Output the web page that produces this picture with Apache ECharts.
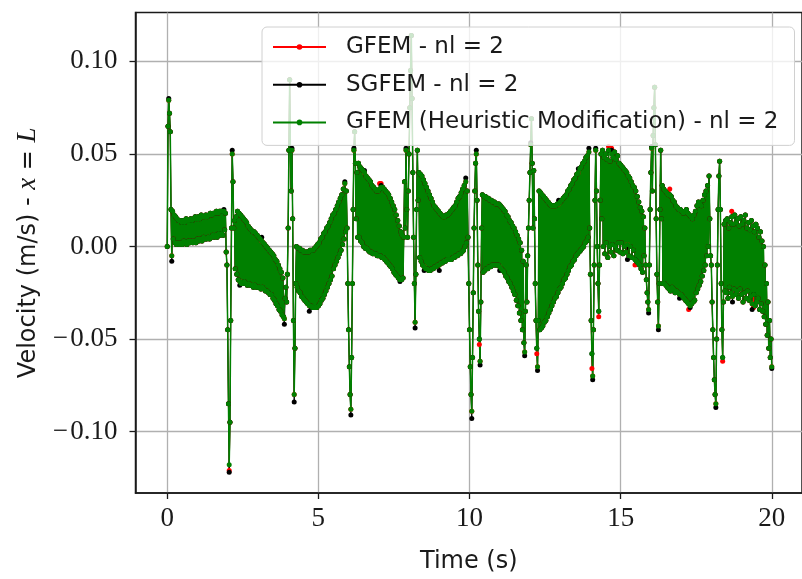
<!DOCTYPE html>
<html><head><meta charset="utf-8">
<script src="https://cdn.jsdelivr.net/npm/echarts@6/dist/echarts.min.js"></script>
<style>html,body{margin:0;padding:0;background:#fff}#c{width:802px;height:579px}</style>
</head><body><div id="c"></div>
<script>
// ---------- data ----------
// Uniform output step of the simulation (s); sample i is at time i * sampleStep, 0 .. 20 s.
const sampleStep = 0.025;
// Velocities in units of 1e-3 m/s, one row per 0.5 s (20 samples), last row = t = 20 s.

// GFEM (Heuristic Modification) - green, drawn on top
const gfemHeur = [
0,65,79,72,62,20,-5,19,4,17,2,16,1,15,2,14,1,14,2,13,
1,14,3,13,2,15,1,14,3,14,2,15,3,14,2,15,3,16,2,15,
4,16,3,15,4,17,3,16,5,16,4,17,4,16,5,17,4,18,5,17,
6,18,5,18,6,19,5,18,7,19,6,19,7,19,6,19,9,18,-3,-10,
-45,-85,-118,-95,-40,10,50,35,10,14,-12,16,-15,19,-18,18,-19,17,-20,16,
-20,15,-19,14,-20,13,-21,11,-20,10,-21,9,-21,8,-22,8,-21,7,-22,6,
-22,5,-22,4,-23,3,-22,2,-23,1,-24,0,-24,-1,-25,-2,-26,-3,-26,-4,
-28,-5,-29,-7,-31,-8,-32,-10,-34,-12,-35,-14,-37,-17,-38,-39,-28,-22,-30,-15,
10,52,90,52,30,52,15,-40,-80,-55,-20,0,-22,-1,-24,-1,-25,-2,-27,-2,
-28,-3,-29,-3,-30,-3,-31,-3,-32,-2,-32,-2,-33,-2,-33,-1,-33,0,-33,1,
-32,2,-31,4,-29,5,-28,7,-26,8,-24,10,-22,11,-20,13,-18,15,-16,17,
-12,18,-10,20,-8,22,-6,24,-4,26,-2,28,1,31,4,34,8,30,10,-20,
-45,-65,-80,-88,-60,-20,20,52,62,45,15,40,5,45,5,43,3,42,2,41,
0,40,-1,38,-1,37,-2,36,-3,35,-3,33,-4,32,-4,31,-4,30,-5,30,
-5,31,-5,32,-6,32,-6,31,-7,30,-8,29,-9,28,-10,26,-11,24,-12,22,
-14,20,-15,17,-16,14,-17,11,-18,8,-18,6,-17,5,35,10,52,20,5,30,
50,75,95,114,80,40,5,-20,-41,-15,20,52,25,40,-6,39,-8,38,-10,36,
-11,34,-12,32,-12,30,-13,28,-13,26,-12,24,-12,22,-11,21,-11,20,-10,19,
-10,18,-9,17,-9,16,-8,16,-8,17,-7,17,-7,18,-7,19,-7,20,-6,21,
-6,22,-5,24,-5,26,-4,27,-4,29,-3,31,-2,33,0,35,2,30,5,-20,
-45,-65,-80,-89,-60,-25,10,30,45,50,25,-10,-35,-50,-62,-30,10,28,-14,27,
-13,27,-12,26,-12,26,-11,25,-11,25,-10,24,-10,24,-10,23,-10,23,-10,23,
-11,22,-12,21,-13,20,-14,19,-16,17,-17,16,-19,14,-20,13,-22,11,-24,10,
-26,8,-29,6,-32,4,-36,2,-40,-2,-45,-8,-52,-57,-35,-10,-30,-5,10,25,
40,55,69,45,10,41,15,-20,-40,-55,-65,-40,30,-45,29,-44,28,-43,27,-41,
26,-40,25,-38,24,-36,23,-34,22,-32,22,-30,22,-28,22,-27,23,-25,23,-23,
24,-22,25,-20,26,-18,27,-17,28,-15,30,-13,31,-11,33,-10,34,-8,36,-7,
37,-5,39,-4,40,-3,42,-2,43,-1,45,0,46,2,48,3,49,5,51,10,
-15,-40,-58,-70,-45,-10,25,52,30,0,-20,-35,-10,25,50,15,52,0,48,-4,
50,2,47,-6,52,0,46,-3,50,1,48,-5,51,0,47,-2,49,2,45,-3,
44,2,43,-4,42,0,41,-3,40,1,38,-5,37,0,35,-6,33,-2,32,-7,
30,-8,27,-9,24,-10,21,-12,19,-14,16,-5,10,-10,-18,-25,-30,-34,-10,20,
40,53,30,60,75,86,55,15,-15,-30,-43,-20,20,52,15,33,-20,31,-20,30,
-21,29,-22,28,-23,28,-24,27,-22,25,-23,24,-25,22,-24,21,-25,20,-26,20,
-26,19,-27,18,-28,19,-29,20,-30,18,-31,17,-32,16,-31,15,-30,17,-29,19,
-25,22,-23,24,-21,23,-19,22,-16,25,-13,28,-10,30,-5,33,0,38,15,-5,
-10,-30,-45,-60,-72,-80,-85,-50,-10,20,38,46,20,-20,-45,-60,-30,12,-24,14,
-25,15,-28,10,-22,13,-25,16,-27,12,-23,17,-26,13,-24,15,-28,11,-23,16,
-26,12,-30,14,-25,17,-28,10,-24,13,-29,9,-27,14,-31,11,-26,8,-32,12,
-30,10,-28,5,-34,8,-31,3,-35,0,-38,-10,-42,-20,-48,-30,-55,-40,-60,-50,
-65
];

// SGFEM - black
const sgfem = [
0,65,80,72,62,20,-8,19,4,17,2,16,1,15,2,14,1,14,2,13,
1,14,3,13,2,15,1,14,3,14,2,15,3,14,2,15,3,16,2,15,
4,16,3,15,4,17,3,16,5,16,4,17,4,16,5,17,4,18,5,17,
6,18,5,18,6,19,5,18,7,19,6,19,7,19,6,20,9,18,-3,-10,
-45,-85,-122,-95,-40,10,52,35,10,14,-12,16,-15,19,-18,18,-21,17,-20,16,
-20,15,-19,14,-20,13,-21,11,-20,10,-21,9,-21,8,-22,8,-21,7,-22,6,
-22,5,-22,4,-23,5,-22,2,-23,1,-24,0,-24,-1,-25,-2,-26,-3,-26,-4,
-28,-5,-29,-7,-31,-8,-32,-10,-34,-12,-35,-14,-37,-17,-38,-42,-28,-22,-30,-15,
10,52,90,52,30,53,15,-40,-84,-55,-20,0,-22,-1,-24,-1,-25,-2,-27,-2,
-28,-3,-29,-3,-30,-3,-31,-3,-35,-2,-32,-2,-33,-2,-33,-1,-33,0,-33,1,
-32,2,-31,4,-29,5,-28,7,-26,8,-24,10,-22,11,-20,13,-18,15,-16,17,
-12,18,-10,20,-8,22,-6,24,-4,26,-2,28,1,31,4,35,8,30,10,-20,
-45,-65,-80,-91,-60,-20,20,53,62,45,15,40,5,45,5,43,3,42,2,41,
0,41,-1,38,-1,37,-2,36,-3,35,-3,33,-4,32,-4,31,-4,30,-5,30,
-5,31,-5,33,-6,32,-6,31,-7,30,-8,29,-9,28,-10,26,-11,24,-12,22,
-14,20,-15,17,-16,14,-17,11,-19,8,-18,6,-17,5,35,10,53,20,5,30,
50,75,95,114,80,40,5,-20,-44,-15,20,52,25,40,-6,39,-8,38,-10,36,
-13,34,-12,32,-12,30,-13,28,-13,26,-12,24,-12,22,-11,21,-11,20,-10,19,
-13,18,-9,17,-9,16,-8,16,-8,17,-7,17,-7,18,-7,19,-7,20,-6,21,
-6,22,-5,24,-5,26,-4,27,-4,29,-3,31,-2,33,0,37,2,30,5,-20,
-45,-65,-80,-93,-60,-25,10,30,45,52,25,-10,-35,-50,-64,-30,10,28,-14,27,
-13,27,-12,26,-12,26,-11,25,-11,25,-10,24,-10,24,-10,23,-10,23,-10,23,
-13,22,-12,21,-13,20,-14,19,-16,17,-17,16,-19,14,-20,13,-22,11,-24,10,
-26,8,-29,6,-32,4,-36,2,-40,-2,-45,-8,-52,-59,-35,-10,-30,-5,10,25,
40,56,69,45,10,41,15,-20,-40,-55,-67,-40,30,-45,29,-44,28,-43,27,-41,
26,-40,25,-38,24,-36,23,-34,22,-32,22,-30,22,-28,22,-27,23,-25,25,-23,
24,-22,25,-20,26,-18,27,-17,28,-15,30,-13,31,-11,33,-10,34,-8,36,-7,
37,-5,39,-4,42,-3,42,-2,43,-1,45,0,46,2,48,3,49,5,53,10,
-15,-40,-58,-72,-45,-10,25,53,30,0,-20,-35,-10,25,50,15,52,0,48,-4,
50,2,47,-6,52,0,46,-3,52,1,48,-5,51,0,47,-2,49,2,45,-3,
44,2,43,-4,42,0,41,-3,40,-7,38,-5,37,0,35,-6,33,-2,32,-7,
30,-8,27,-9,24,-10,21,-12,19,-14,16,-5,10,-10,-18,-25,-30,-36,-10,20,
40,54,30,60,75,86,55,15,-15,-30,-45,-20,20,52,15,33,-20,31,-20,30,
-21,29,-22,28,-23,28,-24,27,-22,25,-23,24,-25,22,-24,21,-25,20,-28,20,
-26,19,-27,18,-28,19,-29,20,-30,18,-31,17,-33,16,-31,15,-30,17,-29,19,
-25,22,-23,24,-21,23,-19,22,-16,25,-13,28,-10,30,-5,33,0,38,15,-5,
-10,-30,-45,-60,-72,-80,-87,-50,-10,20,38,46,20,-20,-45,-60,-30,12,-24,14,
-25,15,-28,10,-22,13,-25,16,-30,12,-23,17,-26,13,-24,15,-28,11,-23,16,
-26,12,-30,14,-25,17,-28,10,-24,13,-29,9,-27,14,-34,11,-26,8,-32,12,
-30,10,-28,5,-34,8,-31,3,-35,0,-38,-10,-42,-20,-48,-30,-55,-40,-60,-50,
-66
];

// GFEM - red
const gfem = [
0,65,79,72,62,20,-5,19,4,17,2,16,1,15,2,14,1,14,2,13,
1,14,3,13,2,15,1,14,3,14,2,15,3,14,2,15,3,16,2,15,
4,16,3,15,4,17,3,16,5,16,4,17,4,16,5,17,4,18,5,17,
6,18,5,18,6,19,5,18,7,19,6,19,7,19,6,19,9,18,-3,-10,
-45,-85,-121,-95,-40,10,50,35,10,14,-12,16,-15,19,-18,18,-19,17,-20,16,
-20,15,-19,14,-20,13,-21,11,-20,10,-21,9,-21,8,-22,8,-21,7,-22,6,
-22,5,-22,4,-23,3,-22,2,-23,1,-24,0,-24,-1,-25,-2,-26,-3,-26,-4,
-28,-5,-29,-7,-31,-8,-32,-10,-34,-12,-35,-14,-37,-17,-38,-39,-28,-22,-30,-15,
10,52,90,52,30,52,15,-40,-80,-55,-20,0,-22,-1,-24,-1,-25,-2,-27,-2,
-28,-3,-29,-3,-30,-3,-31,-3,-32,-2,-32,-2,-33,-2,-33,-1,-33,0,-33,1,
-32,2,-31,4,-29,5,-28,7,-26,8,-24,10,-22,11,-20,13,-18,15,-16,17,
-12,18,-10,20,-8,22,-6,24,-4,26,-2,28,1,31,4,34,8,30,10,-20,
-45,-65,-80,-88,-60,-20,20,52,62,45,15,40,5,45,5,43,3,42,2,41,
0,40,-1,38,-1,37,-2,36,-3,35,-3,33,-4,32,-4,31,-4,30,-5,30,
-5,34,-5,34,-6,32,-6,31,-7,30,-8,29,-9,28,-10,26,-11,24,-12,22,
-14,20,-15,17,-16,14,-17,11,-18,8,-18,6,-17,5,35,10,52,20,5,30,
50,75,95,114,80,40,5,-20,-41,-15,20,52,25,40,-6,39,-8,38,-10,36,
-11,34,-12,32,-12,30,-13,28,-13,26,-12,24,-12,22,-11,21,-11,20,-10,19,
-10,18,-9,17,-9,16,-8,16,-8,17,-7,17,-7,18,-7,19,-7,20,-6,21,
-6,22,-5,24,-5,26,-4,27,-4,29,-3,31,-2,33,0,35,2,30,5,-20,
-45,-65,-80,-89,-60,-25,10,30,45,50,25,-10,-35,-53,-62,-30,10,28,-14,27,
-13,27,-12,26,-12,26,-11,25,-11,25,-10,24,-10,24,-10,23,-10,23,-10,23,
-11,22,-12,21,-13,20,-14,19,-16,17,-17,16,-19,14,-20,13,-22,11,-24,10,
-26,8,-29,6,-32,4,-36,2,-40,-2,-45,-8,-52,-57,-35,-10,-30,-5,10,25,
40,55,69,45,10,41,15,-20,-40,-58,-65,-40,30,-45,29,-44,28,-43,27,-41,
26,-40,25,-38,24,-36,23,-34,22,-32,22,-30,22,-28,22,-27,23,-25,23,-23,
24,-22,25,-20,26,-18,27,-17,28,-15,30,-13,31,-11,33,-10,34,-8,36,-7,
37,-5,39,-4,40,-3,42,-2,43,-1,45,0,46,2,48,3,49,5,51,10,
-15,-40,-66,-70,-45,-10,25,52,30,0,-20,-38,-10,25,50,15,52,0,48,-4,
50,2,47,-6,54,0,46,-3,53,1,48,-5,51,0,47,-2,49,2,45,-3,
44,2,43,-4,42,0,41,-3,40,1,38,-5,37,0,35,-6,33,-2,32,-10,
30,-8,27,-9,24,-10,21,-12,19,-14,16,-5,10,-10,-18,-25,-30,-34,-10,20,
40,53,30,60,75,86,55,15,-15,-30,-43,-20,20,52,15,33,-20,31,-20,30,
-21,29,-22,28,-23,31,-24,27,-22,25,-23,24,-25,22,-24,21,-25,20,-26,20,
-26,19,-27,18,-28,19,-29,20,-30,18,-34,17,-32,16,-31,15,-30,17,-29,19,
-25,22,-23,24,-21,23,-19,22,-16,25,-13,28,-10,30,-5,33,0,38,15,-5,
-10,-30,-45,-60,-72,-80,-85,-50,-10,20,38,46,20,-20,-45,-62,-30,12,-24,14,
-25,15,-28,10,-22,13,-25,19,-27,12,-23,17,-26,13,-24,15,-28,11,-23,16,
-26,12,-30,14,-25,17,-28,10,-24,13,-29,9,-27,14,-31,11,-33,8,-32,12,
-30,10,-28,5,-34,8,-31,3,-35,0,-38,-10,-42,-20,-48,-30,-55,-40,-60,-50,
-65
];

const xTicks = [0, 5, 10, 15, 20];
const yTicks = [-0.10, -0.05, 0.00, 0.05, 0.10];
const seriesNames = ['GFEM - nl = 2', 'SGFEM - nl = 2', 'GFEM (Heuristic Modification) - nl = 2'];
const seriesColors = ['#ff0000', '#000000', '#008000'];
const seriesValues = [gfem, sgfem, gfemHeur];

seriesValues.forEach((a, k) => {
  if (a.length !== gfemHeur.length) console.error('length mismatch', k, a.length);
});

const chart = echarts.init(document.getElementById('c'), null, {renderer: 'canvas'});
const sansFont = 'DejaVu Sans';
const serifFont = 'Liberation Serif';
const ink = '#1a1a1a';

const option = {
  backgroundColor: '#ffffff',
  animation: false,
  grid: {
    left: 135.5, top: 12.5, right: -9.7, bottom: 82,
    show: true, borderColor: ink, borderWidth: 1.5, backgroundColor: 'transparent',
    containLabel: false
  },
  legend: {
    orient: 'vertical', left: 262, top: 27,
    padding: [8, 16, 11, 10], itemGap: 13.7, itemWidth: 53, itemHeight: 7,
    backgroundColor: 'rgba(255,255,255,0.8)', borderColor: '#d0d0d0', borderWidth: 1, borderRadius: 5,
    textStyle: {fontFamily: sansFont, fontSize: 23, color: ink, lineHeight: 24, padding: [0, 0, 0, 15]},
    data: seriesNames
  },
  xAxis: {
    type: 'value', min: -1.05, max: 21,
    axisLine: {show: true, onZero: false, lineStyle: {color: ink, width: 1.5}},
    axisTick: {show: true, customValues: xTicks, length: 6, inside: false, lineStyle: {color: ink, width: 1.3}},
    axisLabel: {customValues: xTicks, margin: 12, fontFamily: serifFont, fontSize: 27, color: ink,
      formatter: v => String(v)},
    splitLine: {show: true, lineStyle: {color: '#b0b0b0', width: 1.3}},
    name: 'Time (s)', nameLocation: 'middle', nameGap: 57,
    nameTextStyle: {fontFamily: sansFont, fontSize: 24, color: ink}
  },
  yAxis: {
    type: 'value', min: -0.1332, max: 0.1264,
    axisLine: {show: true, onZero: false, lineStyle: {color: ink, width: 1.5}},
    axisTick: {show: true, customValues: yTicks, length: 6, inside: false, lineStyle: {color: ink, width: 1.3}},
    axisLabel: {customValues: yTicks, margin: 18, fontFamily: serifFont, fontSize: 27, color: ink,
      formatter: v => (v < -1e-9 ? '\u2212\u200a' : '') + Math.abs(v).toFixed(2)},
    splitLine: {show: true, lineStyle: {color: '#b0b0b0', width: 1.3}},
    name: 'Velocity (m/s) - {m|x} = {m|L}', nameLocation: 'middle', nameGap: 89, nameRotate: 90,
    nameTextStyle: {fontFamily: sansFont, fontSize: 24, color: ink,
      rich: {m: {fontFamily: serifFont, fontStyle: 'italic', fontSize: 27, color: ink}}}
  },
  series: seriesNames.map((name, k) => ({
    name: name, type: 'line',
    data: seriesValues[k].map((v, i) => [i * sampleStep, v / 1000]),
    symbol: 'circle', symbolSize: 5, showSymbol: true, showAllSymbol: true,
    clip: true,
    lineStyle: {color: seriesColors[k], width: k === 2 ? 1.5 : 1},
    itemStyle: {color: seriesColors[k]},
    emphasis: {disabled: true}
  }))
};
chart.setOption(option);
</script>
</body></html>
